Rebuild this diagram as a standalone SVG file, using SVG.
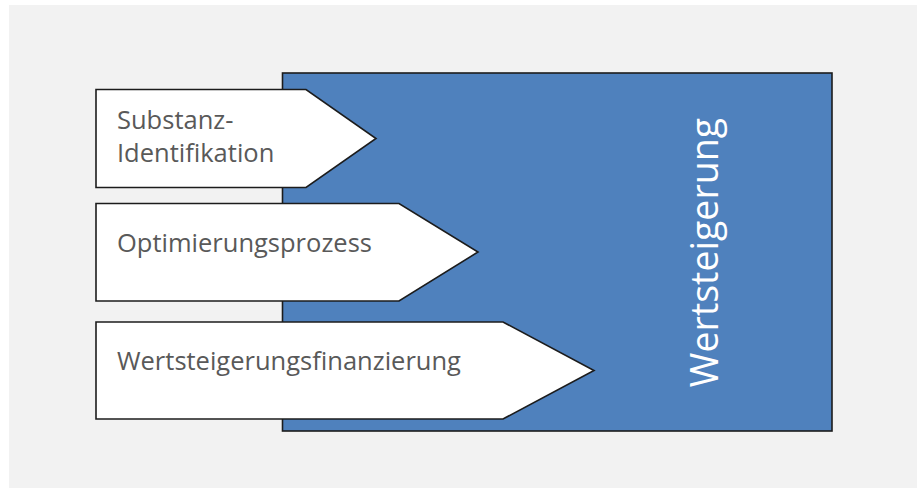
<svg xmlns="http://www.w3.org/2000/svg" width="917" height="488" viewBox="0 0 917 488">
<style>
.shape{stroke:#1c1c1c;stroke-width:1.6;stroke-linejoin:miter}
.arrow{fill:#ffffff}
.lbl{font-family:"Open Sans","Liberation Sans",sans-serif;font-size:25.5px;fill:#595959}
.big{font-family:"Open Sans","Liberation Sans",sans-serif;font-size:37.5px;fill:#ffffff}
</style>
<rect x="0" y="0" width="917" height="488" fill="#ffffff"/>
<rect x="9" y="5" width="908" height="483" fill="#f2f2f2"/>
<g id="wertsteigerung">
<rect class="shape" x="282.5" y="73" width="549.5" height="358" fill="#4f81bd"/>
<text class="big" transform="translate(718,252.5) rotate(-90)" text-anchor="middle">Wertsteigerung</text>
</g>
<g id="connectors"></g>
<g id="substanz">
<polygon class="shape arrow" points="96,89.5 306,89.5 376,138.5 306,187.5 96,187.5"/>
<text class="lbl" x="117" y="128.5">Substanz-</text>
<text class="lbl" x="117" y="161.5">Identifikation</text>
</g>
<g id="optimierung">
<polygon class="shape arrow" points="96,203.5 399,203.5 478,252 399,301 96,301"/>
<text class="lbl" x="117" y="252">Optimierungsprozess</text>
</g>
<g id="finanzierung">
<polygon class="shape arrow" points="96,322 503,322 594,370.5 503,419 96,419"/>
<text class="lbl" x="117" y="370">Wertsteigerungsfinanzierung</text>
</g>
</svg>
